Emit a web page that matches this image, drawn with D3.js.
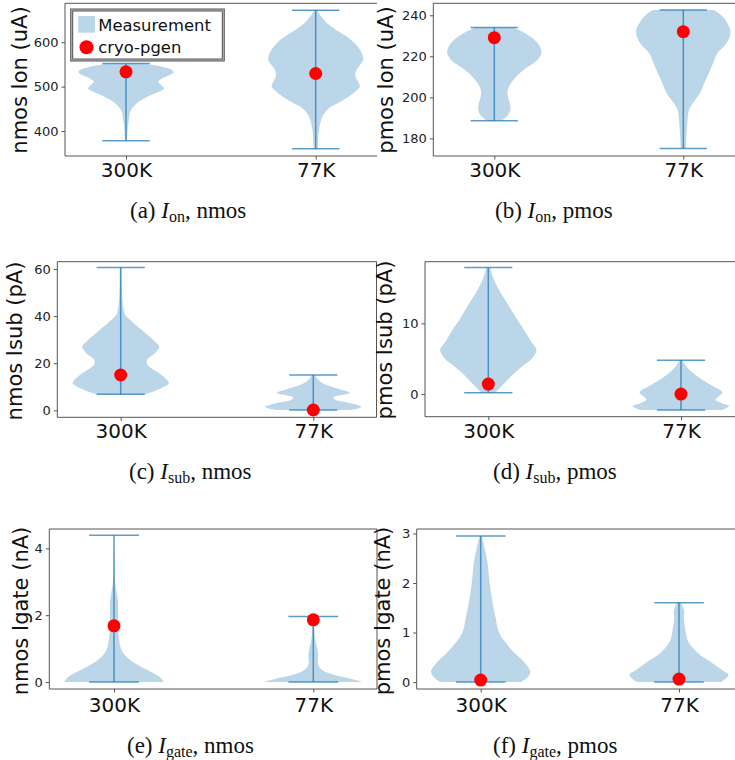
<!DOCTYPE html>
<html><head><meta charset="utf-8">
<script src="https://cdn.jsdelivr.net/npm/d3@7"></script>
<style>body{margin:0;background:#fff}svg{display:block}</style>
</head><body>
<svg id="chart" width="735" height="760"></svg>
<script>
// ---------- data ----------
const categories = ["300K", "77K"];
// violin outlines: [value, relative half-width (0..1)], from max to min
const ionNmos300 = [[552,0.35],[545,0.75],[538,0.97],[532,1.0],[525,0.9],[518,0.75],[511,0.68],[503,0.75],[496,0.8],[490,0.72],[482,0.55],[475,0.42],[468,0.3],[460,0.2],[450,0.12],[440,0.08],[425,0.06],[410,0.04],[395,0.03],[378,0.02]];
const ionNmos77 = [[672,0.03],[660,0.1],[645,0.22],[630,0.4],[615,0.62],[600,0.8],[585,0.92],[570,0.99],[560,1.0],[548,0.93],[535,0.85],[522,0.84],[510,0.9],[500,0.93],[490,0.85],[478,0.7],[465,0.5],[455,0.33],[445,0.22],[432,0.14],[415,0.09],[395,0.06],[375,0.05],[360,0.04]];
const ionPmos300 = [[234.1,0.4],[232,0.6],[229,0.8],[226,0.93],[222,1.0],[218,0.9],[215,0.72],[212,0.55],[209,0.42],[206,0.33],[203,0.28],[200,0.29],[197,0.33],[194,0.34],[191,0.28],[188.6,0.15]];
const ionPmos77 = [[242.6,0.65],[240,0.8],[237.7,0.89],[232,1.0],[226.3,0.91],[221.5,0.72],[216.6,0.63],[211.7,0.54],[206.8,0.44],[202,0.35],[197.1,0.2],[193.8,0.12],[188.9,0.09],[182.4,0.07],[175.9,0.055],[175.1,0.05]];
const isubNmos300 = [[60.6,0.02],[55,0.02],[48,0.03],[44,0.05],[41,0.08],[39.8,0.12],[37,0.27],[33,0.5],[29,0.72],[27,0.8],[24,0.7],[21.4,0.55],[19.5,0.55],[17,0.7],[15,0.85],[12.5,0.98],[11.5,1.0],[10,0.9],[8,0.68],[6.8,0.5]];
const isubNmos77 = [[15,0.03],[13,0.1],[11,0.25],[9,0.55],[7.5,0.76],[6.5,0.6],[5.5,0.42],[4.5,0.45],[3.5,0.65],[2.5,0.88],[1.5,1.0],[0.8,0.93],[0.15,0.75]];
const isubPmos300 = [[17.9,0.04],[16.5,0.1],[15,0.2],[13.5,0.33],[12,0.47],[10.5,0.6],[9,0.75],[7.5,0.88],[6.2,1.0],[5,0.9],[4,0.72],[3,0.55],[2,0.4],[1,0.26],[0.2,0.14]];
const isubPmos77 = [[4.8,0.03],[4,0.1],[3.4,0.18],[2.7,0.3],[2,0.45],[1.3,0.62],[0.7,0.78],[0.2,0.86],[-0.3,0.78],[-0.8,0.72],[-1.3,0.85],[-1.7,1.0],[-2.26,0.85]];
const igateNmos300 = [[4.39,0.0],[3.5,0.01],[3.0,0.02],[2.7,0.05],[2.4,0.08],[2.0,0.08],[1.6,0.08],[1.3,0.1],[1.0,0.14],[0.8,0.22],[0.6,0.38],[0.45,0.55],[0.3,0.75],[0.15,0.92],[0.0,1.0]];
const igateNmos77 = [[1.96,0.01],[1.7,0.02],[1.4,0.03],[1.2,0.05],[1.0,0.08],[0.8,0.1],[0.6,0.09],[0.45,0.12],[0.3,0.25],[0.2,0.45],[0.1,0.75],[0.0,1.0]];
const igatePmos300 = [[2.95,0.02],[2.7,0.08],[2.4,0.14],[2.0,0.18],[1.6,0.24],[1.3,0.3],[1.0,0.37],[0.8,0.5],[0.6,0.67],[0.4,0.88],[0.25,0.99],[0.2,1.0],[0.1,0.95],[0.0,0.82]];
const igatePmos77 = [[1.6,0.04],[1.45,0.1],[1.25,0.1],[1.05,0.13],[0.85,0.17],[0.7,0.27],[0.55,0.42],[0.4,0.65],[0.25,0.86],[0.15,1.0],[0.05,0.92],[0.0,0.85]];
// cryo-pgen predictions [300K, 77K]
const pgenIonNmos = [533.3, 529.6];
const pgenIonPmos = [229.1, 232.0];
const pgenIsubNmos = [15.0, 0.14];
const pgenIsubPmos = [1.42, 0.0];
const pgenIgateNmos = [1.68, 1.86];
const pgenIgatePmos = [0.04, 0.06];
// y tick values
const ticksIonNmos = [400, 500, 600];
const ticksIonPmos = [180, 200, 220, 240];
const ticksIsubNmos = [0, 20, 40, 60];
const ticksIsubPmos = [0, 10];
const ticksIgateNmos = [0, 2, 4];
const ticksIgatePmos = [0, 1, 2, 3];
const yLabels = ["nmos Ion (uA)", "pmos Ion (uA)", "nmos Isub (pA)", "pmos Isub (pA)", "nmos Igate (nA)", "pmos Igate (nA)"];
const captionTags = ["(a)", "(b)", "(c)", "(d)", "(e)", "(f)"];
const captionSubs = ["on", "on", "sub", "sub", "gate", "gate"];
const captionDevices = ["nmos", "pmos", "nmos", "pmos", "nmos", "pmos"];
const legendLabels = ["Measurement", "cryo-pgen"];

// ---------- layout ----------
const panels = [
  {v:[ionNmos300, ionNmos77], p:pgenIonNmos, t:ticksIonNmos, l:65, r:377, top:3.3, bot:156, c1:126, c2:315.7, yd:[343.8,687.6], lx:26.5, ly:80, xb:176.7, cx:130, cy:218, rs:false, legend:true},
  {v:[ionPmos300, ionPmos77], p:pgenIonPmos, t:ticksIonPmos, l:433.3, r:745, top:3.3, bot:156, c1:494.3, c2:683.3, yd:[171.4,245.85], lx:393, ly:80, xb:176.7, cx:495, cy:218, rs:false},
  {v:[isubNmos300, isubNmos77], p:pgenIsubNmos, t:ticksIsubNmos, l:57.3, r:376.5, top:261.7, bot:417.3, c1:120.7, c2:313.3, yd:[-2.96,63.1], lx:21.7, ly:341, xb:438.3, cx:129, cy:479, rs:true},
  {v:[isubPmos300, isubPmos77], p:pgenIsubPmos, t:ticksIsubPmos, l:425, r:745, top:261.7, bot:416.7, c1:488.3, c2:681, yd:[-3.2,18.72], lx:391.7, ly:340, xb:438.3, cx:493, cy:479, rs:false},
  {v:[igateNmos300, igateNmos77], p:pgenIgateNmos, t:ticksIgateNmos, l:49.3, r:377, top:529, bot:689, c1:114, c2:313.3, yd:[-0.21,4.58], lx:28, ly:611, xb:711.7, cx:127, cy:753, rs:true},
  {v:[igatePmos300, igatePmos77], p:pgenIgatePmos, t:ticksIgatePmos, l:416.7, r:745, top:529, bot:689, c1:480.7, c2:679, yd:[-0.14,3.09], lx:390, ly:611, xb:711.7, cx:493, cy:753, rs:false}
];

const svg = d3.select("#chart");
const blue = "#1f77b4";
const sans = "DejaVu Sans, sans-serif";
const serif = "Liberation Serif, Times New Roman, serif";

panels.forEach((P, i) => {
  const g = svg.append("g");
  const x = d3.scaleLinear().domain([1, 2]).range([P.c1, P.c2]);
  const y = d3.scaleLinear().domain(P.yd).range([P.bot, P.top]);
  const unit = x(2) - x(1);

  // violins
  P.v.forEach((prof, k) => {
    const pos = k + 1;
    const hw = 0.25 * unit;
    const area = d3.area()
      .y(d => y(d[0]))
      .x0(d => x(pos) - hw * d[1])
      .x1(d => x(pos) + hw * d[1])
      .curve(d3.curveCatmullRom.alpha(0.5));
    g.append("path").datum(prof).attr("d", area)
      .attr("fill", blue).attr("fill-opacity", 0.3).attr("stroke", "none");
    const vmax = d3.max(prof, d => d[0]), vmin = d3.min(prof, d => d[0]);
    const cap = 0.125 * unit;
    const ls = {stroke: blue, "stroke-opacity": 0.72, "stroke-width": 1.5};
    const line = (x1, y1, x2, y2) => {
      const l = g.append("line").attr("x1", x1).attr("y1", y1).attr("x2", x2).attr("y2", y2);
      Object.entries(ls).forEach(([a, b]) => l.attr(a, b));
    };
    line(x(pos), y(vmax), x(pos), y(vmin));
    line(x(pos) - cap, y(vmax), x(pos) + cap, y(vmax));
    line(x(pos) - cap, y(vmin), x(pos) + cap, y(vmin));
  });

  // cryo-pgen dots
  g.selectAll("circle.pg").data(P.p).join("circle")
    .attr("cx", (d, k) => x(k + 1)).attr("cy", d => y(d)).attr("r", 6.5).attr("fill", "red");

  // frame
  const fr = g.append("g").attr("stroke", "#555").attr("stroke-width", 1).attr("fill", "none");
  fr.append("line").attr("x1", P.l).attr("x2", P.r).attr("y1", P.top).attr("y2", P.top);
  fr.append("line").attr("x1", P.l).attr("x2", P.r).attr("y1", P.bot).attr("y2", P.bot);
  fr.append("line").attr("x1", P.l).attr("x2", P.l).attr("y1", P.top).attr("y2", P.bot);
  if (P.rs) fr.append("line").attr("x1", P.r).attr("x2", P.r).attr("y1", P.top).attr("y2", P.bot);

  // y axis
  const ya = d3.axisLeft(y).tickValues(P.t).tickSize(3.5).tickPadding(3).tickFormat(d3.format("d"));
  const yg = g.append("g").attr("transform", `translate(${P.l},0)`).call(ya);
  yg.select(".domain").remove();
  yg.selectAll(".tick line").attr("stroke", "#555");
  yg.selectAll(".tick text").attr("font-family", sans).attr("font-size", 13).attr("fill", "#222");

  // x axis
  const xa = d3.axisBottom(x).tickValues([1, 2]).tickSize(3.5).tickPadding(4).tickFormat((d, k) => categories[k]);
  const xg = g.append("g").attr("transform", `translate(0,${P.bot})`).call(xa);
  xg.select(".domain").remove();
  xg.selectAll(".tick line").attr("stroke", "#555");
  xg.selectAll(".tick text").attr("font-family", sans).attr("font-size", 20).attr("fill", "#111")
    .attr("dy", null).attr("y", P.xb - P.bot);

  // y label
  g.append("text").attr("transform", `translate(${P.lx},${P.ly}) rotate(-90)`)
    .attr("text-anchor", "middle").attr("font-family", sans).attr("font-size", 21).attr("fill", "#111")
    .text(yLabels[i]);

  // caption
  const cap = g.append("text").attr("x", P.cx).attr("y", P.cy).attr("font-family", serif).attr("font-size", 23).attr("fill", "#111");
  cap.append("tspan").text(captionTags[i] + " ");
  cap.append("tspan").attr("font-style", "italic").text("I");
  cap.append("tspan").attr("font-size", 16).attr("dy", 4).text(captionSubs[i]);
  cap.append("tspan").attr("dy", -4).text(", " + captionDevices[i]);

  // legend
  if (P.legend) {
    const lg = g.append("g");
    lg.append("rect").attr("x", 71.7).attr("y", 10).attr("width", 151.6).attr("height", 50)
      .attr("fill", "white").attr("stroke", "#555").attr("stroke-width", 3);
    lg.append("rect").attr("x", 71.7).attr("y", 10).attr("width", 151.6).attr("height", 50)
      .attr("fill", "none").attr("stroke", "#bbb").attr("stroke-width", 1);
    lg.append("rect").attr("x", 78.3).attr("y", 16).attr("width", 16.7).attr("height", 16.7)
      .attr("fill", blue).attr("fill-opacity", 0.3);
    lg.append("circle").attr("cx", 86.5).attr("cy", 47.3).attr("r", 7).attr("fill", "red");
    lg.selectAll("text.lt").data(legendLabels).join("text")
      .attr("x", 98.3).attr("y", (d, k) => k ? 52.5 : 30.5)
      .attr("font-family", sans).attr("font-size", 16.4).attr("fill", "#111").text(d => d);
  }
});
</script>
</body></html>
